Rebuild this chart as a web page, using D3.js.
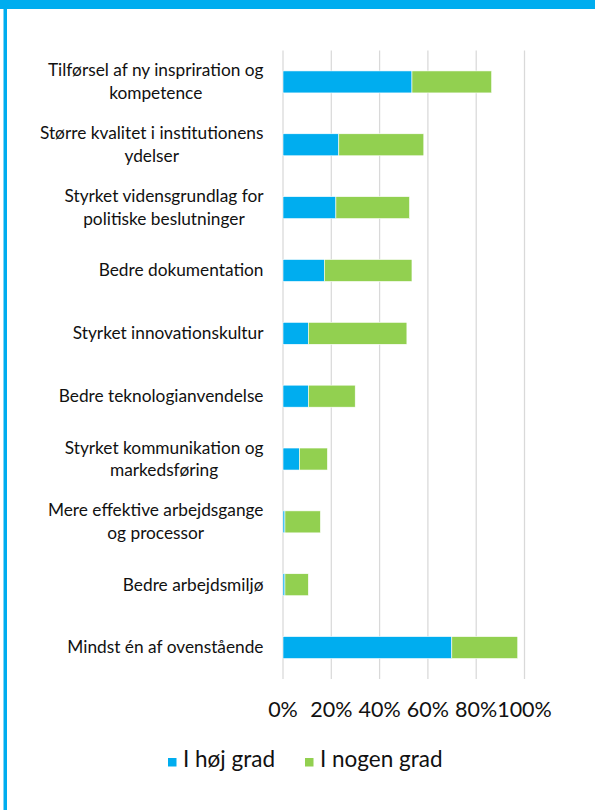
<!DOCTYPE html>
<html>
<head>
<meta charset="utf-8">
<script src="https://cdn.jsdelivr.net/npm/d3@7"></script>
<style>
  html, body { margin: 0; padding: 0; background: #fff; }
  svg { display: block; }
  text { font-family: Lato, "Open Sans", sans-serif; fill: #111; }
</style>
</head>
<body>
<svg id="chart" width="595" height="810"></svg>
<script>
// Category labels (each entry is the list of lines shown for the category)
const categories = [
  ["Tilførsel af ny inspriration og", "kompetence"],
  ["Større kvalitet i institutionens", "ydelser"],
  ["Styrket vidensgrundlag for", "politiske beslutninger"],
  ["Bedre dokumentation"],
  ["Styrket innovationskultur"],
  ["Bedre teknologianvendelse"],
  ["Styrket kommunikation og", "markedsføring"],
  ["Mere effektive arbejdsgange", "og processor"],
  ["Bedre arbejdsmiljø"],
  ["Mindst én af ovenstående"]
];
// Share of respondents (%)
const highDegree = [53.4, 23.1, 21.9, 17.1, 10.5, 10.5, 6.8, 0.8, 0.8, 69.9];
const someDegree = [33.0, 35.2, 30.5, 36.3, 40.8, 19.4, 11.6, 14.7, 9.7, 27.3];
const seriesNames = ["I høj grad", "I nogen grad"];
const tickValues = [0, 20, 40, 60, 80, 100];

const colors = ["#00ADEF", "#92D050"];

const svg = d3.select("#chart");

// Frame: blue bar across the top and down the left side
svg.append("rect").attr("x", 0).attr("y", 0).attr("width", 595).attr("height", 9).attr("fill", colors[0]);
svg.append("rect").attr("x", 3.5).attr("y", 0).attr("width", 3.5).attr("height", 810).attr("fill", colors[0]);

const x = d3.scaleLinear().domain([0, 100]).range([283, 524.5]);
const keys = categories.map((c, i) => i);
const y = d3.scaleBand().domain(keys).range([50.5, 679]).paddingInner(0.65).paddingOuter(0.325);

// Vertical gridlines
svg.append("g").selectAll("line").data(tickValues).join("line")
  .attr("x1", d => x(d)).attr("x2", d => x(d))
  .attr("y1", 50.5).attr("y2", 679)
  .attr("stroke", "#d9d9d9").attr("stroke-width", 1.25);

// Stacked bars
const rows = keys.map(i => ({ i, high: highDegree[i], some: someDegree[i] }));
const stack = d3.stack().keys(["high", "some"])(rows);
svg.append("g").selectAll("g").data(stack).join("g")
  .attr("fill", (d, k) => colors[k])
  .selectAll("rect").data(d => d).join("rect")
  .attr("x", d => x(d[0]))
  .attr("width", d => x(d[1]) - x(d[0]))
  .attr("y", d => y(d.data.i))
  .attr("height", y.bandwidth())
  .attr("stroke", "#fff").attr("stroke-width", 0.6);

// Category labels: block right-aligned, lines centred within block
const labelRight = 263.5;
const lineH = 22.6;
const labels = svg.append("g").attr("font-size", 17.3);
categories.forEach((lines, i) => {
  const cy = y(i) + y.bandwidth() / 2;
  const t = labels.append("text").attr("text-anchor", "middle");
  const spans = lines.map((ln, j) => t.append("tspan")
    .attr("y", cy + (j - (lines.length - 1) / 2) * lineH + 5.8)
    .text(ln));
  const w = d3.max(spans, s => s.node().getComputedTextLength());
  spans.forEach(s => s.attr("x", labelRight - w / 2));
});

// Axis tick labels
svg.append("g").attr("font-size", 21.5).attr("text-anchor", "middle")
  .selectAll("text").data(tickValues).join("text")
  .attr("x", d => x(d)).attr("y", 717)
  .text(d => d + "%");

// Legend
const legend = svg.append("g").attr("font-size", 22.5);
const legendX = [168, 305];
seriesNames.forEach((name, k) => {
  legend.append("rect").attr("x", legendX[k]).attr("y", 758).attr("width", 8.5).attr("height", 8.5).attr("fill", colors[k]);
  legend.append("text").attr("x", legendX[k] + 15).attr("y", 767).text(name);
});
</script>
</body>
</html>
